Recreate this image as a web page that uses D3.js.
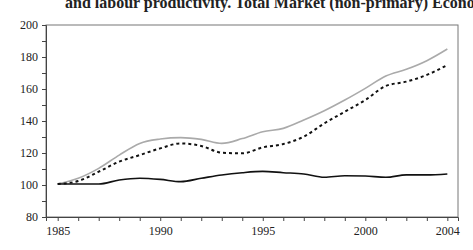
<!DOCTYPE html>
<html>
<head>
<meta charset="utf-8">
<script src="https://cdn.jsdelivr.net/npm/d3@7"></script>
<style>
  body { margin: 0; background: #fff; }
  svg { display: block; }
  text { font-family: "Liberation Serif", "DejaVu Serif", serif; fill: #222; }
</style>
</head>
<body>
<div id="chart"></div>
<script>
// Dimensions
const width = 473, height = 250;
const margin = { top: 25, right: 15, bottom: 33, left: 46 };

// Données
const years = d3.range(1985, 2005);
const grayLine = [100.6, 104.2, 110.4, 118.7, 126, 128.7, 129.6, 128.5, 126, 129, 133.3,
                  135.4, 140.6, 146.4, 153.1, 160.4, 168.1, 172.3, 177.7, 185];
const dashedLine = [100.6, 102.5, 108.3, 114.6, 118.7, 122.9, 126, 124.4, 120.2, 119.8, 123.5,
                    125.6, 130.2, 138.5, 145.8, 153.1, 161.9, 164.6, 168.8, 175];
const solidLine = [100.6, 100.6, 100.6, 103.1, 104.2, 103.5, 102.1, 104.2, 106.3, 107.7, 108.5,
                   107.7, 106.9, 104.8, 105.8, 105.6, 104.8, 106.3, 106.3, 106.9];
const xTickLabels = [1985, 1990, 1995, 2000, 2004];
const yTickLabels = [80, 100, 120, 140, 160, 180, 200];
const titleText = "and labour productivity. Total Market (non-primary) Economy";

const svg = d3.select("#chart")
    .append("svg")
    .attr("width", width)
    .attr("height", height);

const x = d3.scaleLinear()
    .domain([1984.43, 2004.52])
    .range([margin.left, width - margin.right]);

const y = d3.scaleLinear()
    .domain([80, 200])
    .range([height - margin.bottom, margin.top]);

// Titre (coupé en haut, comme dans l'original)
svg.append("text")
    .attr("x", 65)
    .attr("y", 8)
    .attr("font-size", 16)
    .attr("font-weight", "bold")
    .text(titleText);

// Cadre
svg.append("rect")
    .attr("x", margin.left)
    .attr("y", margin.top)
    .attr("width", width - margin.left - margin.right)
    .attr("height", height - margin.top - margin.bottom)
    .attr("fill", "none")
    .attr("stroke", "#777")
    .attr("stroke-width", 1);

// Axe Y
const yAxis = svg.append("g")
    .attr("transform", `translate(${margin.left},0)`)
    .call(d3.axisLeft(y).tickValues(d3.range(80, 201, 10)).tickSize(4)
        .tickFormat(d => yTickLabels.includes(d) ? d : ""));
yAxis.select(".domain").attr("stroke", "#444");
yAxis.selectAll(".tick line").attr("stroke", "#444");
yAxis.selectAll(".tick text")
    .attr("font-size", 12)
    .attr("font-family", "Liberation Serif")
    .attr("fill", "#222")
    .attr("x", -8);

// Axe X
const xAxis = svg.append("g")
    .attr("transform", `translate(0,${height - margin.bottom})`)
    .call(d3.axisBottom(x).tickValues(years).tickSize(4)
        .tickFormat(d => xTickLabels.includes(d) ? d : ""));
xAxis.select(".domain").attr("stroke", "#444");
xAxis.selectAll(".tick line").attr("stroke", "#444");
xAxis.selectAll(".tick text")
    .attr("font-size", 12)
    .attr("font-family", "Liberation Serif")
    .attr("fill", "#222")
    .attr("y", 9);

const line = d3.line()
    .x((d, i) => x(years[i]))
    .y(d => y(d))
    .curve(d3.curveMonotoneX);

svg.append("path")
    .datum(grayLine)
    .attr("d", line)
    .attr("fill", "none")
    .attr("stroke", "#aaa")
    .attr("stroke-width", 1.6);

svg.append("path")
    .datum(dashedLine)
    .attr("d", line)
    .attr("fill", "none")
    .attr("stroke", "#111")
    .attr("stroke-width", 2)
    .attr("stroke-dasharray", "3,3");

svg.append("path")
    .datum(solidLine)
    .attr("d", line)
    .attr("fill", "none")
    .attr("stroke", "#111")
    .attr("stroke-width", 1.6);
</script>
</body>
</html>
